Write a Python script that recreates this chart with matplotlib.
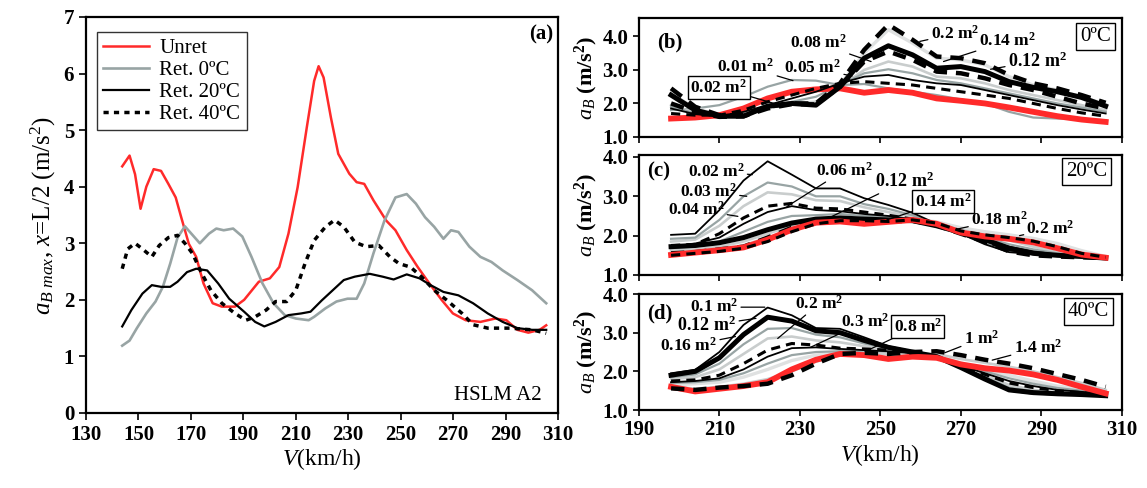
import numpy as np
import matplotlib.pyplot as plt

plt.rcParams['font.family'] = 'Liberation Serif'
plt.rcParams['mathtext.fontset'] = 'custom'
plt.rcParams['mathtext.rm'] = 'Liberation Serif'
plt.rcParams['mathtext.it'] = 'Liberation Serif:italic'
plt.rcParams['mathtext.bf'] = 'Liberation Serif:bold'

# ---- (a) maximum acceleration at midspan, HSLM A2 ----
v_unret = [143.8, 146.6, 148.7, 150.8, 153.0, 155.8, 158.6, 161.4, 164.2, 166.3, 169.2, 172.0, 174.8,
           178.3, 181.8, 186.8, 190.3, 195.9, 200.1, 203.7, 207.2, 210.7, 214.2, 217.0, 218.7, 220.6,
           223.4, 226.2, 230.4, 233.2, 236.1, 239.6, 244.5, 248.0, 252.3, 256.5, 261.4, 265.6, 269.9,
           274.8, 280.4, 286.1, 290.3, 294.5, 298.7, 303.0, 305.5]
a_unret = [4.36, 4.55, 4.22, 3.61, 4.00, 4.31, 4.28, 4.05, 3.81, 3.46, 2.99, 2.76, 2.29,
           1.94, 1.88, 1.88, 2.00, 2.32, 2.38, 2.58, 3.17, 3.99, 5.05, 5.87, 6.13, 5.93,
           5.22, 4.58, 4.23, 4.08, 4.05, 3.76, 3.40, 3.23, 2.88, 2.58, 2.26, 2.00, 1.76,
           1.64, 1.61, 1.67, 1.64, 1.47, 1.42, 1.47, 1.55]

v_ret0 = [143.8, 146.6, 149.4, 153.0, 156.5, 159.3, 162.1, 164.9, 167.7, 173.4, 176.9, 179.7, 182.5,
          186.1, 189.6, 193.1, 197.3, 201.5, 205.8, 210.0, 214.9, 217.0, 221.3, 225.5, 229.7, 233.2,
          236.1, 239.6, 243.8, 248.0, 252.3, 255.8, 259.3, 262.8, 266.3, 269.2, 272.0, 276.2, 280.4,
          284.6, 288.9, 294.5, 300.1, 305.5]
a_ret0 = [1.19, 1.28, 1.50, 1.76, 1.97, 2.23, 2.64, 3.10, 3.30, 3.00, 3.17, 3.26, 3.23,
          3.26, 3.12, 2.76, 2.29, 1.94, 1.73, 1.67, 1.64, 1.70, 1.85, 1.97, 2.02, 2.02,
          2.29, 2.82, 3.40, 3.81, 3.87, 3.70, 3.46, 3.29, 3.08, 3.23, 3.20, 2.94, 2.76,
          2.67, 2.52, 2.35, 2.17, 1.94]

v_ret20 = [143.8, 147.3, 151.5, 155.1, 158.6, 162.1, 164.9, 168.5, 172.0, 176.2, 180.4, 184.6, 190.3,
           194.5, 198.0, 202.3, 207.2, 212.1, 215.6, 219.9, 224.1, 228.3, 232.5, 238.2, 243.1, 247.3,
           252.3, 257.2, 261.4, 266.3, 272.0, 277.6, 283.2, 288.9, 294.5, 300.1, 305.5]
a_ret20 = [1.53, 1.82, 2.11, 2.26, 2.23, 2.23, 2.32, 2.49, 2.55, 2.52, 2.29, 2.02, 1.79,
           1.61, 1.53, 1.61, 1.73, 1.76, 1.79, 1.99, 2.17, 2.35, 2.41, 2.46, 2.41, 2.36,
           2.45, 2.38, 2.26, 2.14, 2.08, 1.94, 1.76, 1.61, 1.50, 1.47, 1.47]

v_ret40 = [143.8, 145.9, 148.7, 151.5, 155.1, 157.9, 161.4, 164.9, 167.7, 170.6, 174.1, 177.6, 181.8,
           186.8, 191.0, 194.5, 198.7, 202.3, 206.5, 210.0, 213.5, 217.0, 221.3, 224.8, 228.3, 232.5,
           236.8, 241.7, 245.9, 249.4, 253.7, 257.9, 262.8, 267.7, 273.4, 277.6, 283.2, 291.7, 300.1, 305.5]
a_ret40 = [2.55, 2.90, 3.00, 2.90, 2.76, 2.96, 3.10, 3.14, 3.00, 2.82, 2.47, 2.17, 1.94,
           1.76, 1.64, 1.70, 1.82, 1.97, 1.97, 2.17, 2.64, 3.05, 3.29, 3.41, 3.29, 3.02,
           2.94, 2.96, 2.76, 2.64, 2.58, 2.41, 2.17, 1.99, 1.76, 1.56, 1.50, 1.50, 1.47, 1.41]

# ---- (b)-(d): acceleration for several damper areas ----
v_r = [198, 204, 210, 216, 222, 228, 234, 240, 246, 252, 258, 264, 270, 276, 282, 288, 294, 300, 306]

# 0 C
b_unret = [1.55, 1.58, 1.65, 1.85, 2.15, 2.35, 2.42, 2.45, 2.32, 2.40, 2.32, 2.15, 2.08, 2.00, 1.88, 1.75, 1.62, 1.52, 1.45]
b_001 = [1.80, 1.85, 1.95, 2.20, 2.50, 2.70, 2.68, 2.55, 2.58, 2.45, 2.35, 2.25, 2.12, 2.00, 1.75, 1.58, 1.55, 1.53, 1.50]
b_002 = [1.70, 1.65, 1.65, 1.80, 2.05, 2.25, 2.45, 2.60, 2.65, 2.60, 2.55, 2.45, 2.35, 2.25, 2.15, 2.00, 1.85, 1.72, 1.62]
b_003 = [1.85, 1.68, 1.62, 1.75, 1.95, 2.15, 2.35, 2.60, 2.80, 2.85, 2.70, 2.60, 2.55, 2.40, 2.25, 2.10, 1.95, 1.82, 1.70]
b_005 = [1.90, 1.70, 1.62, 1.70, 1.90, 2.05, 2.20, 2.55, 2.90, 3.02, 2.90, 2.70, 2.60, 2.45, 2.30, 2.15, 2.00, 1.88, 1.75]
b_006 = [1.95, 1.72, 1.60, 1.65, 1.85, 2.00, 2.05, 2.50, 3.00, 3.25, 3.10, 2.80, 2.75, 2.60, 2.40, 2.25, 2.10, 1.95, 1.80]
b_008 = [2.00, 1.75, 1.60, 1.62, 1.85, 1.98, 1.97, 2.50, 3.25, 3.55, 3.30, 2.95, 2.90, 2.75, 2.55, 2.40, 2.20, 2.00, 1.85]
b_012 = [2.25, 1.80, 1.62, 1.62, 1.92, 2.00, 1.95, 2.50, 3.35, 3.72, 3.45, 3.05, 3.10, 2.95, 2.65, 2.48, 2.35, 2.18, 1.92]
b_014 = [2.30, 1.85, 1.65, 1.65, 1.90, 2.00, 2.00, 2.55, 3.50, 4.20, 3.80, 3.35, 3.30, 3.15, 2.80, 2.55, 2.40, 2.20, 1.97]
b_020 = [2.45, 1.90, 1.65, 1.65, 1.90, 2.00, 2.00, 2.60, 3.60, 4.35, 3.90, 3.40, 3.35, 3.20, 2.85, 2.60, 2.45, 2.25, 2.02]

# 20 C
c_002 = [2.02, 2.05, 2.65, 3.40, 3.89, 3.55, 3.20, 3.20, 2.95, 2.78, 2.58, 2.30, 2.05, 1.78, 1.58, 1.53, 1.50, 1.47, 1.42]
c_003 = [1.92, 1.95, 2.40, 3.00, 3.35, 3.25, 3.00, 3.00, 2.80, 2.68, 2.52, 2.28, 2.05, 1.80, 1.62, 1.55, 1.52, 1.48, 1.43]
c_004 = [1.85, 1.90, 2.25, 2.75, 3.10, 3.05, 2.90, 2.88, 2.72, 2.60, 2.48, 2.27, 2.06, 1.85, 1.67, 1.58, 1.53, 1.48, 1.43]
c_005 = [1.75, 1.78, 2.05, 2.45, 2.75, 2.82, 2.70, 2.68, 2.60, 2.52, 2.42, 2.25, 2.05, 1.85, 1.65, 1.55, 1.50, 1.47, 1.43]
c_006 = [1.72, 1.80, 1.95, 2.30, 2.60, 2.75, 2.65, 2.62, 2.55, 2.50, 2.42, 2.25, 2.08, 1.90, 1.72, 1.60, 1.52, 1.47, 1.43]
c_008 = [1.68, 1.72, 1.85, 2.10, 2.35, 2.50, 2.52, 2.55, 2.50, 2.48, 2.42, 2.27, 2.10, 1.95, 1.78, 1.65, 1.55, 1.48, 1.43]
c_012 = [1.72, 1.75, 1.82, 1.95, 2.15, 2.32, 2.42, 2.45, 2.42, 2.40, 2.38, 2.25, 2.08, 1.90, 1.68, 1.55, 1.50, 1.47, 1.43]
c_014 = [1.55, 1.58, 1.65, 1.72, 1.95, 2.20, 2.35, 2.40, 2.38, 2.36, 2.38, 2.26, 2.05, 1.85, 1.60, 1.50, 1.47, 1.45, 1.43]
c_016 = [1.62, 1.65, 1.72, 1.85, 2.05, 2.25, 2.38, 2.42, 2.40, 2.38, 2.38, 2.28, 2.15, 2.02, 1.88, 1.72, 1.58, 1.50, 1.44]
c_unret = [1.51, 1.57, 1.63, 1.70, 1.90, 2.15, 2.33, 2.36, 2.30, 2.35, 2.40, 2.30, 2.08, 1.98, 1.92, 1.83, 1.68, 1.52, 1.44]
c_018 = [1.50, 1.55, 1.60, 1.68, 1.85, 2.10, 2.30, 2.38, 2.38, 2.36, 2.40, 2.32, 2.12, 2.02, 1.95, 1.86, 1.72, 1.55, 1.45]
c_020 = [1.55, 1.58, 1.65, 1.75, 1.95, 2.15, 2.30, 2.38, 2.40, 2.40, 2.42, 2.35, 2.20, 2.10, 2.02, 1.93, 1.80, 1.62, 1.47]

# 40 C
d_010 = [1.95, 2.04, 2.50, 3.20, 3.65, 3.45, 3.12, 3.10, 2.88, 2.65, 2.52, 2.40, 2.12, 1.85, 1.50, 1.42, 1.40, 1.38, 1.35]
d_012 = [1.90, 2.00, 2.35, 2.95, 3.40, 3.30, 3.05, 3.00, 2.80, 2.62, 2.50, 2.38, 2.10, 1.80, 1.52, 1.45, 1.42, 1.40, 1.37]
d_014 = [1.85, 1.92, 2.20, 2.70, 3.10, 3.12, 2.95, 2.88, 2.72, 2.60, 2.50, 2.38, 2.12, 1.85, 1.58, 1.48, 1.44, 1.41, 1.38]
d_016a = [1.80, 1.85, 2.05, 2.45, 2.85, 2.90, 2.80, 2.75, 2.65, 2.58, 2.50, 2.38, 2.15, 1.90, 1.65, 1.52, 1.46, 1.42, 1.38]
d_020 = [1.75, 1.78, 1.90, 2.20, 2.55, 2.72, 2.68, 2.60, 2.58, 2.55, 2.48, 2.38, 2.15, 1.92, 1.70, 1.58, 1.50, 1.45, 1.40]
d_016 = [1.72, 1.75, 1.82, 2.05, 2.38, 2.60, 2.62, 2.58, 2.55, 2.52, 2.47, 2.37, 2.15, 1.95, 1.75, 1.62, 1.52, 1.47, 1.42]
d_030 = [1.70, 1.72, 1.78, 1.95, 2.20, 2.42, 2.50, 2.52, 2.52, 2.50, 2.46, 2.37, 2.18, 2.00, 1.82, 1.68, 1.57, 1.50, 1.44]
d_050 = [1.65, 1.68, 1.72, 1.85, 2.05, 2.28, 2.42, 2.48, 2.50, 2.48, 2.45, 2.38, 2.22, 2.05, 1.90, 1.75, 1.62, 1.53, 1.46]
d_unret = [1.60, 1.48, 1.55, 1.62, 1.72, 2.05, 2.30, 2.45, 2.42, 2.32, 2.38, 2.35, 2.18, 2.08, 2.02, 1.92, 1.78, 1.60, 1.43]
d_100 = [1.62, 1.55, 1.60, 1.68, 1.80, 2.00, 2.25, 2.42, 2.48, 2.45, 2.48, 2.45, 2.32, 2.22, 2.12, 2.00, 1.85, 1.70, 1.52]
d_080 = [1.56, 1.52, 1.58, 1.62, 1.68, 1.90, 2.20, 2.45, 2.48, 2.45, 2.50, 2.52, 2.42, 2.30, 2.20, 2.08, 1.93, 1.78, 1.60]

RED = '#ff2a2a'
GRAY = '#98a4a4'
LGRAY = '#c9cdcd'
XLGRAY = '#dfe1e1'

thin = dict(color='black', lw=1.3)
thick = dict(color='black', lw=3.6)
dash_thin = dict(color='black', lw=2.2, dashes=(3, 2))
dash_thick = dict(color='black', lw=3.2, dashes=(3, 2))
gray = dict(color=GRAY, lw=1.6)
lgray = dict(color=LGRAY, lw=1.9)
xlgray = dict(color=XLGRAY, lw=2.4)
red = dict(color=RED, lw=4.2)

fig = plt.figure(figsize=(11.47, 4.88), dpi=100)

# ---------- panel (a) ----------
ax = fig.add_axes([0.075, 0.1537, 0.4115, 0.8115])
ax.plot(v_unret, a_unret, color=RED, lw=1.8, label='Unret')
ax.plot(v_ret0, a_ret0, color=GRAY, lw=1.9, label='Ret. 0ºC')
ax.plot(v_ret20, a_ret20, color='black', lw=1.6, label='Ret. 20ºC')
ax.plot(v_ret40, a_ret40, color='black', lw=2.5, dashes=(1.5, 1.5), label='Ret. 40ºC')
ax.set_xlim(130, 310)
ax.set_ylim(0, 7)
ax.set_xticks(np.arange(130, 311, 20))
ax.set_yticks(np.arange(0, 8, 1))
ax.tick_params(direction='out', length=5, width=1.2, labelsize=15)
for lab in ax.get_xticklabels() + ax.get_yticklabels():
    lab.set_fontweight('bold')
for s in ax.spines.values():
    s.set_linewidth(1.6)
ax.set_xlabel('$V$(km/h)', fontsize=17, labelpad=1)
ax.set_ylabel('$a_{B\\ max}$, $x$=L/2 (m/s$^2$)', fontsize=18, labelpad=4)
leg = ax.legend(loc='upper left', bbox_to_anchor=(0.023, 0.962), borderaxespad=0, fontsize=15,
                frameon=True, fancybox=False, edgecolor='black', handlelength=2.2,
                handletextpad=0.5, labelspacing=0.12, borderpad=0.3)
leg.get_frame().set_linewidth(1.0)
ax.text(0.989, 0.955, '(a)', transform=ax.transAxes, ha='right', va='center', fontsize=15, fontweight='bold')
ax.text(0.966, 0.045, 'HSLM A2', transform=ax.transAxes, ha='right', va='center', fontsize=15)

# ---------- right panels ----------
def setup(ax, ymax, show_x):
    ax.set_xlim(190, 310)
    ax.set_ylim(1.0, ymax)
    ax.set_xticks(np.arange(190, 311, 20))
    ax.set_yticks([1.0, 2.0, 3.0, 4.0])
    ax.set_yticklabels(['1.0', '2.0', '3.0', '4.0'])
    ax.tick_params(direction='out', length=4, width=1.2, labelsize=15)
    if not show_x:
        ax.tick_params(axis='x', labelbottom=False)
    for lab in ax.get_xticklabels() + ax.get_yticklabels():
        lab.set_fontweight('bold')
    for s in ax.spines.values():
        s.set_linewidth(1.6)
    ax.set_ylabel('$a_B$ (m/s$^\\mathbf{2}$)', fontsize=16, fontweight='bold', labelpad=2)


def label(ax, text, xy, xytext, box=False, bold=False):
    kw = dict(fontsize=13 if bold else 12.5, ha='center', va='center', fontweight='bold')
    if box:
        kw['bbox'] = dict(boxstyle='square,pad=0.15', fc='white', ec='black', lw=1.0)
    ax.annotate(text + ' m$^\\mathbf{2}$', xy=xy, xytext=xytext, textcoords='data',
                arrowprops=dict(arrowstyle='-', lw=0.9, color='black', shrinkA=0, shrinkB=0), **kw)


def tbox(ax, text, xy):
    ax.text(xy[0], xy[1], text, fontsize=15, ha='center', va='center',
            bbox=dict(boxstyle='square,pad=0.2', fc='white', ec='black', lw=1.0))

# (b) 0 C
axb = fig.add_axes([0.557, 0.7193, 0.421, 0.2439])
axb.plot(v_r, b_001, **gray)
axb.plot(v_r, b_006, **lgray)
axb.plot(v_r, b_005, **gray)
axb.plot(v_r, b_014, **xlgray)
axb.plot(v_r, b_unret, **red)
axb.plot(v_r, b_002, **dash_thin)
axb.plot(v_r, b_003, **thin)
axb.plot(v_r, b_008, **dash_thick)
axb.plot(v_r, b_012, **thick)
axb.plot(v_r, b_020, **dash_thick)
setup(axb, 4.55, False)
axb.text(194.5, 3.82, '(b)', fontsize=15, fontweight='bold', va='center')
label(axb, '0.01', (228.3, 2.68), (216.6, 3.1))
label(axb, '0.02', (224.2, 1.98), (209.8, 2.48), box=True)
label(axb, '0.05', (243.0, 2.82), (233.2, 3.05))
label(axb, '0.08', (247.7, 3.25), (234.6, 3.8))
label(axb, '0.2', (259.8, 3.85), (268.5, 4.08))
label(axb, '0.14', (265.7, 3.25), (281.5, 3.86))
label(axb, '0.12', (277.4, 3.02), (289.0, 3.27), bold=True)
tbox(axb, '0ºC', (303.5, 4.0))

# (c) 20 C
axc = fig.add_axes([0.557, 0.4365, 0.421, 0.2459])
axc.plot(v_r, c_020, **xlgray)
axc.plot(v_r, c_016, **lgray)
axc.plot(v_r, c_004, **lgray)
axc.plot(v_r, c_003, **gray)
axc.plot(v_r, c_008, **gray)
axc.plot(v_r, c_002, **thin)
axc.plot(v_r, c_005, **dash_thin)
axc.plot(v_r, c_006, **thin)
axc.plot(v_r, c_014, **dash_thick)
axc.plot(v_r, c_012, **thick)
axc.plot(v_r, c_unret, **red)
axc.plot(v_r, c_018, **dash_thin)
setup(axc, 4.05, False)
axc.text(192.0, 3.63, '(c)', fontsize=15, fontweight='bold', va='center')
label(axc, '0.02', (218.2, 3.55), (209.2, 3.63))
label(axc, '0.03', (216.8, 3.0), (207.3, 3.12))
label(axc, '0.04', (214.6, 2.49), (204.2, 2.66))
label(axc, '0.06', (226.8, 2.74), (241.0, 3.66))
label(axc, '0.12', (237.2, 2.45), (256.0, 3.38), bold=True)
label(axc, '0.14', (251.6, 2.4), (265.6, 2.87), box=True)
label(axc, '0.18', (268.8, 2.16), (279.6, 2.4))
label(axc, '0.2', (284.6, 2.0), (292.3, 2.18))
tbox(axc, '20ºC', (301.3, 3.63))

# (d) 40 C
axd = fig.add_axes([0.557, 0.1598, 0.421, 0.2377])
axd.plot(v_r, d_050, **xlgray)
axd.plot(v_r, d_016a, **lgray)
axd.plot(v_r, d_014, **gray)
axd.plot(v_r, d_030, **gray)
axd.plot(v_r, d_100, **lgray)
axd.plot(v_r, d_010, **thin)
axd.plot(v_r, d_020, **dash_thin)
axd.plot(v_r, d_016, **thin)
axd.plot(v_r, d_012, **thick)
axd.plot(v_r, d_unret, **red)
axd.plot(v_r, d_080, **dash_thick)
setup(axd, 4.0, True)
axd.set_xlabel('$V$(km/h)', fontsize=17, labelpad=1)
axd.text(192.0, 3.5, '(d)', fontsize=15, fontweight='bold', va='center')
label(axd, '0.1', (221.3, 3.66), (208.7, 3.66))
label(axd, '0.12', (219.1, 3.37), (206.9, 3.18), bold=True)
label(axd, '0.16', (214.0, 2.9), (202.4, 2.66))
label(axd, '0.2', (224.5, 2.85), (234.9, 3.76))
label(axd, '0.3', (232.6, 2.62), (246.2, 3.28))
label(axd, '0.8', (246.2, 2.51), (259.3, 3.16), box=True)
label(axd, '1', (266.0, 2.48), (275.1, 2.85))
label(axd, '1.4', (277.8, 2.29), (289.1, 2.6))
tbox(axd, '40ºC', (301.7, 3.54))

fig.savefig('out.png', dpi=100)
